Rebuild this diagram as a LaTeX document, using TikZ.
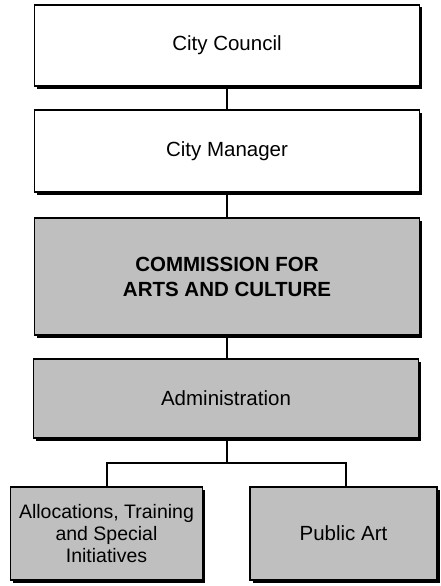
\documentclass[tikz,border=0pt]{standalone}
\usepackage{fontspec}
\setmainfont{Liberation Sans}
\usetikzlibrary{shadows}
\tikzset{
  orgbox/.style={draw=black, line width=1.2pt, rectangle, align=center, inner sep=0pt,
    font=\fontsize{20.5}{25}\selectfont,
    drop shadow={shadow xshift=2.5pt, shadow yshift=-2.5pt, fill=black, opacity=1}},
  whitebox/.style={orgbox, fill=white},
  graybox/.style={orgbox, fill=gray!50},
  link/.style={draw=black, line width=1.3pt}
}
\begin{document}
\begin{tikzpicture}[x=1pt,y=-1pt]
\useasboundingbox (0,0) rectangle (440,586);
\node[whitebox, minimum width=385pt, minimum height=81pt] (council) at (227,45.5) {City Council};
\node[whitebox, minimum width=385pt, minimum height=82pt] (manager) at (227,151) {City Manager};
\node[graybox, minimum width=385pt, minimum height=117pt] (commission) at (227,276.5) {\textbf{COMMISSION FOR}\\[0pt]\textbf{ARTS AND CULTURE}};
\node[graybox, minimum width=385pt, minimum height=79pt] (admin) at (226,398.5) {Administration};
\node[graybox, minimum width=192pt, minimum height=93pt, font=\fontsize{19.5}{22}\selectfont] (alloc) at (106.5,533.5) {Allocations, Training\\and Special\\Initiatives};
\node[graybox, minimum width=187pt, minimum height=93pt] (public) at (343.5,533.5) {Public Art};
\coordinate (split) at (227,463);
\draw[link] (council.south -| 227,0) -- (manager.north -| 227,0);
\draw[link] (manager.south -| 227,0) -- (commission.north -| 227,0);
\draw[link] (commission.south -| 227,0) -- (admin.north -| 227,0);
\draw[link] (admin.south -| 227,0) -- (split);
\draw[link] (split) -| (alloc.north -| 107,0);
\draw[link] (split) -| (public.north -| 346,0);
\end{tikzpicture}
\end{document}
